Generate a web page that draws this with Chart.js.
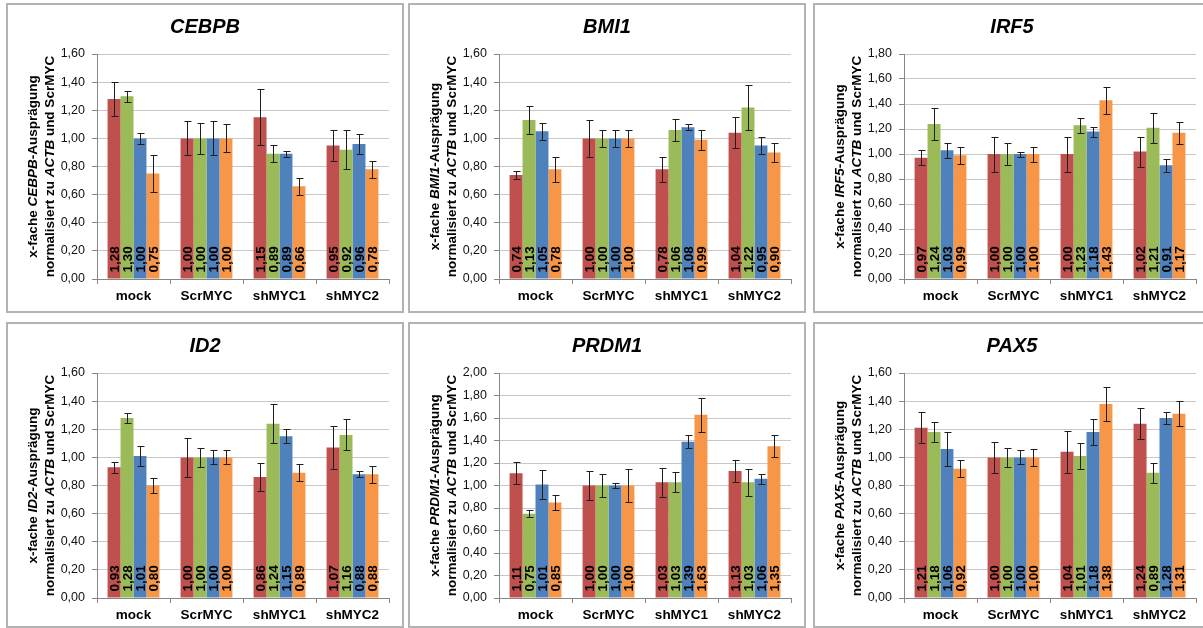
<!DOCTYPE html>
<html lang="de">
<head>
<meta charset="utf-8">
<title>Expression nach MYC-Knockdown</title>
<script src="https://cdn.jsdelivr.net/npm/chart.js@4.4.0/dist/chart.umd.min.js"></script>
<style>
  html, body { margin: 0; padding: 0; background: #fff; width: 1203px; height: 628px; overflow: hidden; }
  .panel { position: absolute; box-sizing: border-box; border: 2px solid #b3b3b3; background: #fff; }
  .panel canvas { position: absolute; left: 0; top: 0; }
</style>
</head>
<body>
<script>
// --- Daten ---
const categories = ['mock', 'ScrMYC', 'shMYC1', 'shMYC2'];
const genes = ['CEBPB', 'BMI1', 'IRF5', 'ID2', 'PRDM1', 'PAX5'];
const yMax = [1.6, 1.6, 1.8, 1.6, 2.0, 1.6];

// je Zeile eine Serie (rot, grün, blau, orange), je Eintrag eine Kategorie
const cebpbValues = [[1.28, 1.00, 1.15, 0.95], [1.30, 1.00, 0.89, 0.92], [1.00, 1.00, 0.89, 0.96], [0.75, 1.00, 0.66, 0.78]];
const cebpbErrors = [[0.12, 0.12, 0.20, 0.11], [0.04, 0.11, 0.06, 0.14], [0.04, 0.12, 0.02, 0.07], [0.13, 0.10, 0.06, 0.06]];

const bmi1Values = [[0.74, 1.00, 0.78, 1.04], [1.13, 1.00, 1.06, 1.22], [1.05, 1.00, 1.08, 0.95], [0.78, 1.00, 0.99, 0.90]];
const bmi1Errors = [[0.03, 0.13, 0.09, 0.11], [0.10, 0.06, 0.08, 0.16], [0.06, 0.06, 0.02, 0.06], [0.09, 0.06, 0.07, 0.07]];

const irf5Values = [[0.97, 1.00, 1.00, 1.02], [1.24, 1.00, 1.23, 1.21], [1.03, 1.00, 1.18, 0.91], [0.99, 1.00, 1.43, 1.17]];
const irf5Errors = [[0.06, 0.14, 0.14, 0.12], [0.13, 0.09, 0.06, 0.12], [0.06, 0.02, 0.04, 0.05], [0.07, 0.06, 0.11, 0.09]];

const id2Values = [[0.93, 1.00, 0.86, 1.07], [1.28, 1.00, 1.24, 1.16], [1.01, 1.00, 1.15, 0.88], [0.80, 1.00, 0.89, 0.88]];
const id2Errors = [[0.04, 0.14, 0.10, 0.155], [0.035, 0.065, 0.14, 0.11], [0.07, 0.05, 0.05, 0.02], [0.055, 0.05, 0.06, 0.06]];

const prdm1Values = [[1.11, 1.00, 1.03, 1.13], [0.75, 1.00, 1.03, 1.03], [1.01, 1.00, 1.39, 1.06], [0.85, 1.00, 1.63, 1.35]];
const prdm1Errors = [[0.10, 0.13, 0.13, 0.10], [0.03, 0.10, 0.09, 0.12], [0.13, 0.02, 0.06, 0.045], [0.07, 0.15, 0.15, 0.10]];

const pax5Values = [[1.21, 1.00, 1.04, 1.24], [1.18, 1.00, 1.01, 0.89], [1.06, 1.00, 1.18, 1.28], [0.92, 1.00, 1.38, 1.31]];
const pax5Errors = [[0.11, 0.11, 0.15, 0.11], [0.07, 0.065, 0.09, 0.07], [0.12, 0.05, 0.09, 0.04], [0.06, 0.06, 0.12, 0.09]];

const allValues = [cebpbValues, bmi1Values, irf5Values, id2Values, prdm1Values, pax5Values];
const allErrors = [cebpbErrors, bmi1Errors, irf5Errors, id2Errors, prdm1Errors, pax5Errors];

// --- Layout / Stil ---
const seriesColors = ['#C0504D', '#9BBB59', '#4F81BD', '#F79646'];
const FONT = '"Liberation Sans", Arial, sans-serif';
const panelBoxes = [
  { x: 6, y: 3, w: 398, h: 310 }, { x: 408, y: 3, w: 398, h: 310 }, { x: 813, y: 3, w: 398, h: 310 },
  { x: 6, y: 322, w: 398, h: 306 }, { x: 408, y: 322, w: 398, h: 306 }, { x: 813, y: 322, w: 398, h: 306 }
];
const PLOT_TOP = 49, PLOT_BOTTOM = 274, PLOT_LEFT = 89, PLOT_RIGHT = 381;

const fmt = v => v.toFixed(2).replace('.', ',');

// Text mit gemischten Schnitten, um -90° gedreht
function drawRotatedParts(ctx, parts, cx, cy) {
  ctx.save();
  ctx.translate(cx, cy);
  ctx.rotate(-Math.PI / 2);
  let total = 0;
  parts.forEach(p => { ctx.font = p.font; p.w = ctx.measureText(p.text).width; total += p.w; });
  let x = -total / 2;
  ctx.textAlign = 'left';
  ctx.textBaseline = 'middle';
  parts.forEach(p => { ctx.font = p.font; ctx.fillText(p.text, x, 0); x += p.w; });
  ctx.restore();
}

const panelPlugin = {
  id: 'panelDecor',
  afterDatasetsDraw(chart) {
    const { ctx, scales: { y } } = chart;
    // Werte unten in den Balken
    ctx.save();
    ctx.fillStyle = '#000';
    ctx.font = 'bold 13.5px ' + FONT;
    chart.data.datasets.forEach((ds, di) => {
      chart.getDatasetMeta(di).data.forEach((bar, j) => {
        ctx.save();
        ctx.translate(bar.x + 1, bar.base - 6);
        ctx.rotate(-Math.PI / 2);
        ctx.textAlign = 'left';
        ctx.textBaseline = 'middle';
        ctx.fillText(fmt(ds.data[j]), 0, 0);
        ctx.restore();
      });
    });
    // Fehlerbalken
    ctx.strokeStyle = '#1e1e1e';
    ctx.lineWidth = 1;
    chart.data.datasets.forEach((ds, di) => {
      chart.getDatasetMeta(di).data.forEach((bar, j) => {
        const v = ds.data[j], e = ds.errors[j];
        const x = Math.round(bar.x) + 0.5;
        const yT = Math.round(y.getPixelForValue(v + e)) + 0.5;
        const yB = Math.round(y.getPixelForValue(v - e)) + 0.5;
        ctx.beginPath();
        ctx.moveTo(x, yT); ctx.lineTo(x, yB);
        ctx.moveTo(x - 3, yT); ctx.lineTo(x + 4, yT);
        ctx.moveTo(x - 3, yB); ctx.lineTo(x + 4, yB);
        ctx.stroke();
      });
    });
    ctx.restore();
  },
  afterDraw(chart) {
    const ctx = chart.ctx;
    const gene = chart.options.plugins.panelDecor.gene;
    const area = chart.chartArea;
    ctx.save();
    ctx.fillStyle = '#000';
    ctx.font = 'italic bold 20px ' + FONT;
    ctx.textAlign = 'center';
    ctx.textBaseline = 'middle';
    ctx.fillText(gene, chart.width / 2, 22);
    const cy = (area.top + area.bottom) / 2;
    const b = 'bold 13.5px ' + FONT, bi = 'italic bold 13.5px ' + FONT;
    drawRotatedParts(ctx, [
      { text: 'x-fache ', font: b }, { text: gene, font: bi }, { text: '-Ausprägung', font: b }
    ], 25, cy);
    drawRotatedParts(ctx, [
      { text: 'normalisiert zu ', font: b }, { text: 'ACTB', font: bi }, { text: ' und ScrMYC', font: b }
    ], 42, cy);
    ctx.restore();
  }
};

genes.forEach((gene, i) => {
  const box = panelBoxes[i];
  const div = document.createElement('div');
  div.className = 'panel';
  Object.assign(div.style, { left: box.x + 'px', top: box.y + 'px', width: box.w + 'px', height: box.h + 'px' });
  const canvas = document.createElement('canvas');
  const cw = box.w - 4, ch = box.h - 4;
  canvas.width = cw;
  canvas.height = ch;
  div.appendChild(canvas);
  document.body.appendChild(div);

  const datasets = allValues[i].map((vals, s) => ({
    data: vals,
    errors: allErrors[i][s],
    backgroundColor: seriesColors[s],
    borderWidth: 0,
    barPercentage: 1.0,
    categoryPercentage: 0.71
  }));

  new Chart(canvas, {
    type: 'bar',
    data: { labels: categories, datasets: datasets },
    options: {
      responsive: false,
      animation: false,
      layout: { padding: { top: PLOT_TOP, left: PLOT_LEFT - 40, right: cw - PLOT_RIGHT, bottom: 0 } },
      plugins: {
        legend: { display: false },
        title: { display: false },
        tooltip: { enabled: false },
        panelDecor: { gene: gene }
      },
      scales: {
        x: {
          afterFit: s => { s.height = ch - PLOT_BOTTOM; },
          grid: { drawOnChartArea: false, color: '#868686', tickLength: 5 },
          border: { color: '#868686' },
          ticks: { color: '#000', padding: 4, font: { family: FONT, size: 13.5, weight: 'bold' }, maxRotation: 0 }
        },
        y: {
          min: 0,
          max: yMax[i],
          afterFit: s => { s.width = 40; },
          grid: { color: '#c8c8c8', tickColor: '#868686', tickLength: 5 },
          border: { color: '#868686' },
          ticks: {
            stepSize: 0.2,
            padding: 7,
            color: '#111',
            font: { family: FONT, size: 12.5 },
            callback: v => fmt(v)
          }
        }
      }
    },
    plugins: [panelPlugin]
  });
});
</script>
</body>
</html>
